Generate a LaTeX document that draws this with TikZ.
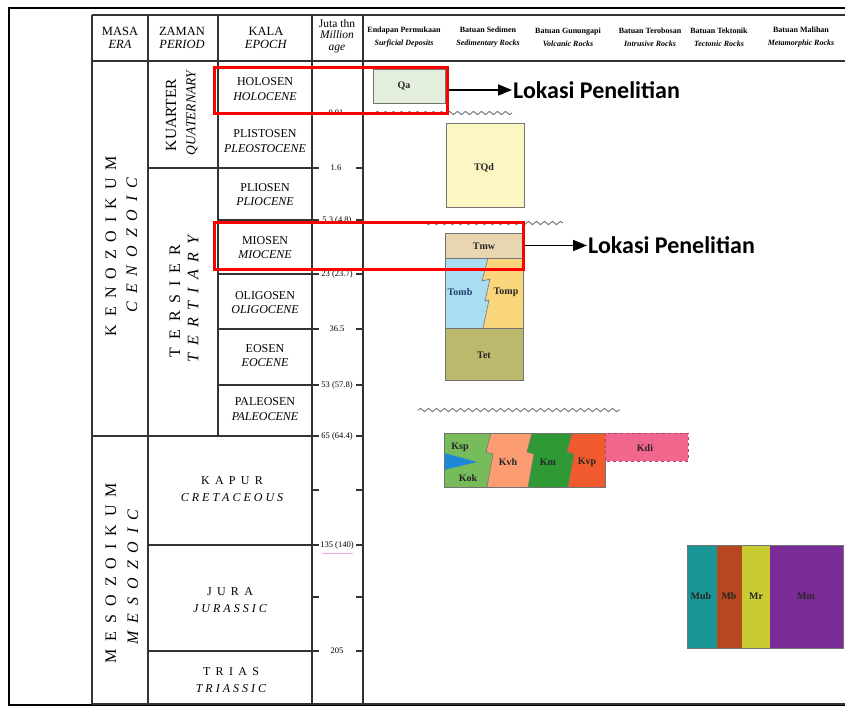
\documentclass[tikz,border=0pt]{standalone}
\usepackage{fontspec}
\setmainfont{Liberation Serif}
\newfontfamily\lokfont{Carlito}
\usetikzlibrary{arrows.meta,decorations.pathmorphing}
\definecolor{qa}{HTML}{E3EEDD}
\definecolor{tqd}{HTML}{FBF6C2}
\definecolor{tmw}{HTML}{E9D6B0}
\definecolor{tomb}{HTML}{A8DDF2}
\definecolor{tomp}{HTML}{F9D67C}
\definecolor{tet}{HTML}{BCB96E}
\definecolor{ksp}{HTML}{78BB5A}
\definecolor{wedge}{HTML}{1E88D8}
\definecolor{kvh}{HTML}{FC9C72}
\definecolor{km}{HTML}{2F9A34}
\definecolor{kvp}{HTML}{F05A2C}
\definecolor{kdi}{HTML}{F0668C}
\definecolor{mub}{HTML}{1A9696}
\definecolor{mb}{HTML}{B8471F}
\definecolor{mr}{HTML}{C9CB33}
\definecolor{mm}{HTML}{7A2C96}
\definecolor{tombtxt}{HTML}{1E3F6E}
\newcommand{\myspc}[1]{\spaceskip=#1\relax}
\begin{document}
\begin{tikzpicture}[x=1pt,y=-1pt,
  tl/.style={draw=black!80,line width=1.1pt},
  hl/.style={draw=black!80,line width=1.6pt},
  hd/.style={align=center,font=\fontsize{12.5}{13.5}\selectfont,inner sep=0pt},
  jh/.style={align=center,font=\fontsize{11.5}{11.5}\selectfont,inner sep=0pt},
  rh/.style={align=center,font=\fontsize{8}{13}\selectfont\bfseries,inner sep=0pt},
  jl/.style={font=\fontsize{8.5}{9}\selectfont,inner sep=0pt},
  ep/.style={align=center,font=\fontsize{12}{14.5}\selectfont,inner sep=0pt},
  per/.style={align=center,font=\fontsize{12}{17}\selectfont,inner sep=0pt},
  era/.style={rotate=90,font=\fontsize{16}{16}\selectfont,inner sep=0pt},
  rk/.style={draw=black!55,line width=0.6pt},
  rl/.style={font=\fontsize{10}{11}\selectfont\bfseries,inner sep=0pt,text=black!85},
  wave/.style={draw=black!60,line width=0.8pt,decorate,decoration={snake,segment length=8pt,amplitude=1.6pt}},
  redbox/.style={draw=red,line width=3pt,inner sep=0pt},
  lok/.style={font=\lokfont\bfseries\fontsize{24}{28}\selectfont,inner sep=1pt,anchor=west},
  arr/.style={draw=black,line width=1.8pt,-{Triangle[length=14pt,width=11pt]}}
]
\useasboundingbox (0,0) rectangle (845,715);
\clip (0,0) rectangle (845,715);

% outer frame
\draw[line width=1.6pt] (9,8) rectangle (870,705);

% ---------- table grid ----------
\draw[hl] (92,15) -- (850,15);
\draw[hl] (92,61) -- (850,61);
\draw[hl] (92,704) -- (850,704);
\draw[tl] (92,15) -- (92,704);
\draw[tl] (148,15) -- (148,704);
\draw[tl] (218,15) -- (218,436);
\draw[tl] (312,15) -- (312,704);
\draw[tl] (363,15) -- (363,704);
\draw[tl] (218,113) -- (312,113);
\draw[tl] (148,168) -- (312,168);
\draw[tl] (218,220) -- (312,220);
\draw[tl] (218,274) -- (312,274);
\draw[tl] (218,329) -- (312,329);
\draw[tl] (218,385) -- (312,385);
\draw[tl] (92,436) -- (312,436);
\draw[tl] (148,545) -- (312,545);
\draw[tl] (148,651) -- (312,651);
\foreach \yy in {113,168,220,274,329,385,436,490,545,597,651}
  \draw[tl] (312,\yy) -- (319,\yy) (356,\yy) -- (363,\yy);

% ---------- headers ----------
\node[hd] (hmasa) at (120,38) {MASA\\\textit{ERA}};
\node[hd] (hzaman) at (182,38) {ZAMAN\\\textit{PERIOD}};
\node[hd] (hkala) at (266,38) {KALA\\\textit{EPOCH}};
\node[jh] (hjuta) at (337,36) {Juta thn\\\textit{Million}\\\textit{age}};
\node[rh] (hr1) at (404,37) {Endapan Permukaan\\\textit{Surficial Deposits}};
\node[rh] (hr2) at (488,37) {Batuan Sedimen\\\textit{Sedimentary Rocks}};
\node[rh] (hr3) at (568,37) {Batuan Gunungapi\\\textit{Volcanic Rocks}};
\node[rh] (hr4) at (650,37) {Batuan Terobosan\\\textit{Intrusive Rocks}};
\node[rh] (hr5) at (719,37) {Batuan Tektonik\\\textit{Tectonic Rocks}};
\node[rh] (hr6) at (801,37) {Batuan Malihan\\\textit{Metamorphic Rocks}};

% ---------- era / period ----------
\node[era] (e1) at (111,246) {\myspc{8pt}K E N O Z O I K U M};
\node[era] (e2) at (132,245) {\itshape\myspc{8pt}C E N O Z O I C};
\node[era] (e3) at (111,573) {\myspc{8pt}M E S O Z O I K U M};
\node[era] (e4) at (133,577) {\itshape\myspc{8pt}M E S O Z O I C};
\node[rotate=90,inner sep=0pt,font=\fontsize{15.5}{15.5}\selectfont] (p1) at (171,115) {KUARTER};
\node[rotate=90,inner sep=0pt,font=\fontsize{13.5}{13.5}\selectfont\itshape] (p2) at (192,113) {QUATERNARY};
\node[era] (p3) at (175,301) {\myspc{8pt}T E R S I E R};
\node[era] (p4) at (193,299) {\itshape\myspc{8pt}T E R T I A R Y};

% ---------- epochs ----------
\node[ep] (k1) at (265,89) {HOLOSEN\\\textit{HOLOCENE}};
\node[ep] (k2) at (265,141) {PLISTOSEN\\\textit{PLEOSTOCENE}};
\node[ep] (k3) at (265,194.5) {PLIOSEN\\\textit{PLIOCENE}};
\node[ep] (k4) at (265,247.5) {MIOSEN\\\textit{MIOCENE}};
\node[ep] (k5) at (265,302.5) {OLIGOSEN\\\textit{OLIGOCENE}};
\node[ep] (k6) at (265,355.5) {EOSEN\\\textit{EOCENE}};
\node[ep] (k7) at (265,409) {PALEOSEN\\\textit{PALEOCENE}};
\node[per] (k8) at (232,489) {\myspc{5.3pt}K A P U R\\\textit{C R E T A C E O U S}};
\node[per] (k9) at (230,600) {\myspc{5.3pt}J U R A\\\textit{J U R A S S I C}};
\node[per] (k10) at (231,680) {\myspc{5.3pt}T R I A S\\\textit{T R I A S S I C}};

% ---------- ages ----------
\node[jl] (j1) at (336,113) {0.01};
\node[jl] (j2) at (336,168) {1.6};
\node[jl] (j3) at (337,220) {5.3 (4.8)};
\node[jl] (j4) at (337,274) {23 (23.7)};
\node[jl] (j5) at (337,329) {36.5};
\node[jl] (j6) at (337,385) {53 (57.8)};
\node[jl] (j7) at (337,436) {65 (64.4)};
\node[jl] (j8) at (337,545) {135 (140)};
\node[jl] (j9) at (337,651) {205};
\draw[magenta!35,line width=0.8pt] (322,553) -- (353,553);

% ---------- surficial ----------
\filldraw[fill=qa,rk] (373,69) rectangle (445,103);
\node[rl] (qa) at (404,86) {Qa};

% ---------- sedimentary ----------
\filldraw[fill=tqd,rk] (446,123) rectangle (524,207);
\node[rl] (tqd) at (484,168) {TQd};
\fill[tmw] (445,233) rectangle (523,258);
\fill[tomb] (445,258) -- (488,258) -- (482,281) -- (490,279) -- (485,301) -- (489,300) -- (483,328) -- (445,328) -- cycle;
\fill[tomp] (488,258) -- (523,258) -- (523,328) -- (483,328) -- (489,300) -- (485,301) -- (490,279) -- (482,281) -- cycle;
\fill[tet] (445,328) rectangle (523,380);
\draw[rk] (445,233) rectangle (523,380);
\draw[rk] (445,258) -- (523,258);
\draw[rk] (445,328) -- (523,328);
\draw[rk] (488,258) -- (482,281) -- (490,279) -- (485,301) -- (489,300) -- (483,328);
\node[rl] (tmw) at (484,246) {Tmw};
\node[rl,text=tombtxt] (tomb) at (460,292) {Tomb};
\node[rl] (tomp) at (506,292) {Tomp};
\node[rl] (tet) at (484,355) {Tet};

% ---------- unconformities ----------
\draw[wave] (375,113) -- (512,113);
\draw[wave] (422,223) -- (563,223);
\draw[wave] (418,410) -- (620,410);

% ---------- volcanic (Cretaceous) ----------
\fill[ksp] (444,433) -- (491,433) -- (486,452) -- (493,454) -- (487,487) -- (444,487) -- cycle;
\fill[kvh] (491,433) -- (532,433) -- (527,452) -- (534,454) -- (528,487) -- (487,487) -- (493,454) -- (486,452) -- cycle;
\fill[km] (532,433) -- (572,433) -- (567,452) -- (574,454) -- (568,487) -- (528,487) -- (534,454) -- (527,452) -- cycle;
\fill[kvp] (572,433) -- (605,433) -- (605,487) -- (568,487) -- (574,454) -- (567,452) -- cycle;
\fill[wedge] (444,453) -- (477,462) -- (444,470) -- cycle;
\draw[rk] (444,433) rectangle (605,487);
\draw[rk] (491,433) -- (486,452) -- (493,454) -- (487,487);
\draw[rk] (532,433) -- (527,452) -- (534,454) -- (528,487);
\draw[rk] (572,433) -- (567,452) -- (574,454) -- (568,487);
\filldraw[fill=kdi,draw=kdi!70!black,dashed,line width=0.8pt] (605,433) rectangle (688,461);
\node[rl] (ksp) at (460,447) {Ksp};
\node[rl] (kok) at (468,478) {Kok};
\node[rl] (kvh) at (508,462) {Kvh};
\node[rl] (km) at (548,462) {Km};
\node[rl] (kvp) at (587,462) {Kvp};
\node[rl] (kdi) at (645,448) {Kdi};

% ---------- metamorphic ----------
\fill[mub] (687,545) rectangle (717,648);
\fill[mb] (717,545) rectangle (742,648);
\fill[mr] (742,545) rectangle (770,648);
\fill[mm] (770,545) rectangle (843,648);
\draw[rk] (687,545) rectangle (843,648);
\node[rl] (mubl) at (701,596) {Mub};
\node[rl] (mbl) at (729,596) {Mb};
\node[rl] (mrl) at (756,596) {Mr};
\node[rl] (mml) at (806,596) {Mm};

% ---------- research location highlights ----------
\node[redbox,minimum width=233pt,minimum height=46pt] (rb1) at (330.5,90) {};
\node[redbox,minimum width=309pt,minimum height=47pt] (rb2) at (368.5,245.5) {};
\node[lok] (lp1) at (512,90) {Lokasi Penelitian};
\node[lok] (lp2) at (587,245.5) {Lokasi Penelitian};
\draw[arr] (rb1.east) -- (lp1.west);
\draw[arr] (rb2.east) -- (lp2.west);
\end{tikzpicture}
\end{document}
